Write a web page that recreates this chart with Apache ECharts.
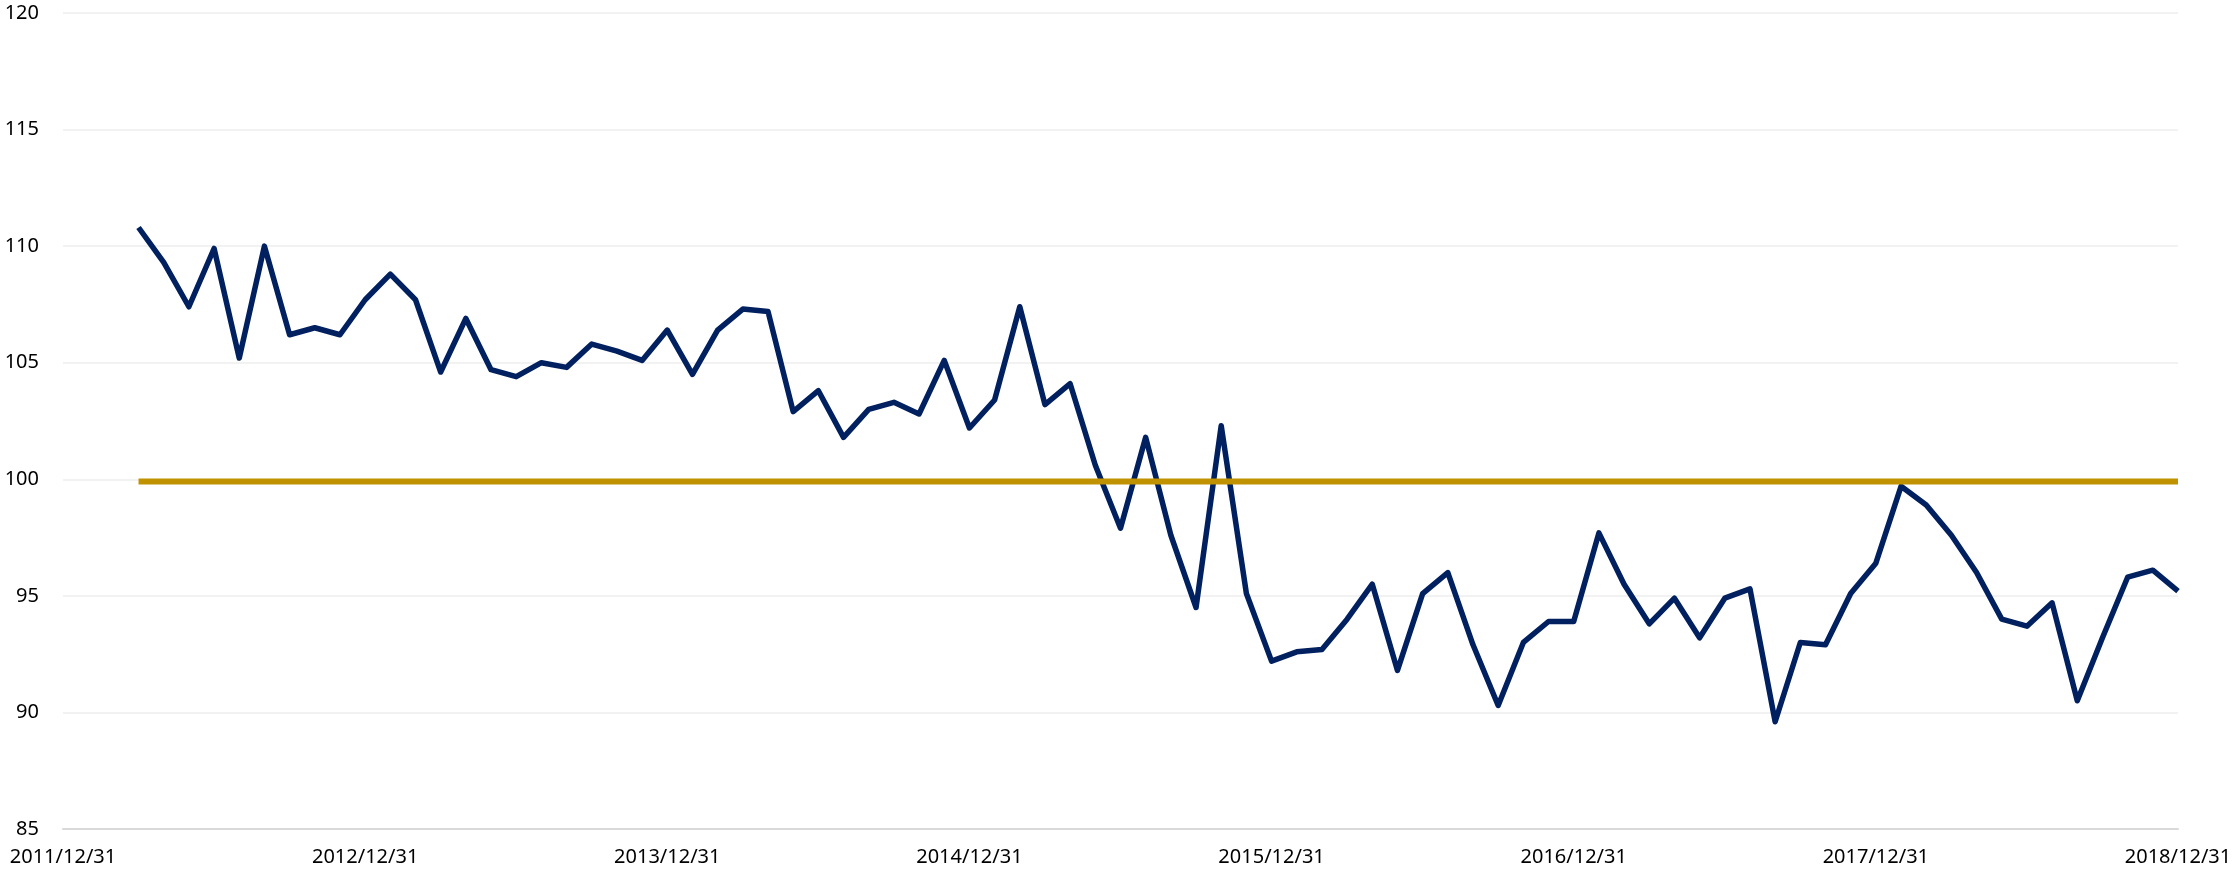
<!DOCTYPE html>
<html>
<head>
<meta charset="utf-8">
<script src="https://cdn.jsdelivr.net/npm/echarts@6/dist/echarts.min.js"></script>
<style>
  html, body { margin: 0; padding: 0; background: #ffffff; }
  #chart { width: 2236px; height: 872px; }
</style>
</head>
<body>
<div id="chart"></div>
<script>
// Month-end categories from 2011/12/31 to 2018/12/31
const monthEnds = [31, 28, 31, 30, 31, 30, 31, 31, 30, 31, 30, 31];
const categories = ["2011/12/31"];
for (let y = 2012; y <= 2018; y++) {
  for (let m = 1; m <= 12; m++) {
    let d = monthEnds[m - 1];
    if (m === 2 && y % 4 === 0) d = 29;
    categories.push(y + "/" + String(m).padStart(2, "0") + "/" + d);
  }
}

// First observation is 2012/03/31, monthly to 2018/12/31
const seriesStart = "2012/03/31";
const indexValues = [
  110.8, 109.3, 107.4, 109.9, 105.2, 110.0, 106.2, 106.5, 106.2, 107.7,
  108.8, 107.7, 104.6, 106.9, 104.7, 104.4, 105.0, 104.8, 105.8, 105.5,
  105.1, 106.4, 104.5, 106.4, 107.3, 107.2, 102.9, 103.8, 101.8, 103.0,
  103.3, 102.8, 105.1, 102.2, 103.4, 107.4, 103.2, 104.1, 100.6, 97.9,
  101.8, 97.6, 94.5, 102.3, 95.1, 92.2, 92.6, 92.7, 94.0, 95.5,
  91.8, 95.1, 96.0, 92.9, 90.3, 93.0, 93.9, 93.9, 97.7, 95.5,
  93.8, 94.9, 93.2, 94.9, 95.3, 89.6, 93.0, 92.9, 95.1, 96.4,
  99.7, 98.9, 97.6, 96.0, 94.0, 93.7, 94.7, 90.5, 93.2, 95.8,
  96.1, 95.2
];
const baselineValue = 99.9;

const yTicks = [85, 90, 95, 100, 105, 110, 115, 120];

const startIdx = categories.indexOf(seriesStart);
const seriesDates = categories.slice(startIdx, startIdx + indexValues.length);
const indexData = seriesDates.map((d, i) => [d, indexValues[i]]);
const baselineData = seriesDates.map(d => [d, baselineValue]);

const chart = echarts.init(document.getElementById('chart'), null, { renderer: 'canvas' });
chart.setOption({
  animation: false,
  backgroundColor: '#ffffff',
  grid: { left: 63, right: 58, top: 13, bottom: 43, containLabel: false },
  xAxis: {
    type: 'category',
    data: categories,
    boundaryGap: false,
    axisLine: { show: true, lineStyle: { color: '#D9D9D9', width: 2 } },
    axisTick: { show: false },
    splitLine: { show: false },
    axisLabel: {
      interval: function (index) { return index % 12 === 0; },
      color: '#000000',
      fontFamily: 'Noto Sans',
      fontSize: 20,
      margin: 18,
      showMinLabel: true,
      showMaxLabel: true
    }
  },
  yAxis: {
    type: 'value',
    min: yTicks[0],
    max: yTicks[yTicks.length - 1],
    interval: 5,
    axisLine: { show: false },
    axisTick: { show: false },
    splitLine: { show: true, lineStyle: { color: '#EEEEEE', width: 1.5 } },
    axisLabel: {
      color: '#000000',
      fontFamily: 'Noto Sans',
      fontSize: 20,
      margin: 24
    }
  },
  series: [
    {
      name: 'Index',
      type: 'line',
      data: indexData,
      showSymbol: false,
      symbol: 'none',
      lineStyle: { color: '#002060', width: 5.5, join: 'round' },
      itemStyle: { color: '#002060' },
      z: 2
    },
    {
      name: 'Baseline',
      type: 'line',
      data: baselineData,
      showSymbol: false,
      symbol: 'none',
      lineStyle: { color: '#C09200', width: 6 },
      itemStyle: { color: '#C09200' },
      z: 3
    }
  ]
});
</script>
</body>
</html>
